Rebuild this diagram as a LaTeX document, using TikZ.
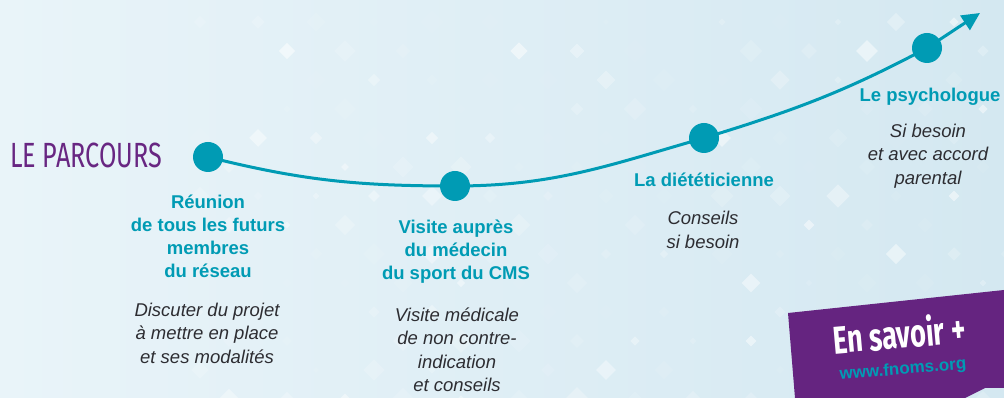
\documentclass[tikz,border=0pt]{standalone}
\usepackage{fontspec}
\setmainfont{Liberation Sans}
\newfontfamily\firafont{Fira Sans}
\usetikzlibrary{arrows.meta,positioning}
\definecolor{parcteal}{RGB}{0,155,180}
\definecolor{parcpurple}{RGB}{104,38,130}
\definecolor{boxpurple}{RGB}{101,36,128}
\definecolor{notegrey}{RGB}{45,45,50}
\definecolor{bgleft}{RGB}{233,244,249}
\definecolor{bgright}{RGB}{212,232,241}

\begin{document}
\begin{tikzpicture}[
    x=1pt, y=1pt,
    stepdot/.style={circle, fill=parcteal, minimum size=30pt, inner sep=0pt},
    steptitle/.style={text=parcteal, font=\bfseries\fontsize{18.5}{23}\selectfont, align=center, inner sep=0pt},
    stepnote/.style={text=notegrey, font=\itshape\fontsize{18.5}{23.5}\selectfont, align=center, inner sep=0pt},
    diam/.style={fill=white}
]
    % background
    \shade[left color=bgleft, right color=bgright] (0,0) rectangle (1004,398);
    \useasboundingbox (0,0) rectangle (1004,398);
    \pgfmathsetseed{12}
    \foreach \i in {0,...,14} {
        \foreach \j in {0,...,13} {
            \pgfmathsetmacro{\dx}{200+58*\i+29*mod(\j,2)}
            \pgfmathsetmacro{\dy}{376-29*\j}
            \pgfmathsetmacro{\ds}{3+9*rnd}
            \pgfmathsetmacro{\dop}{0.55*rnd*rnd}
            \fill[diam, opacity=\dop] (\dx,\dy) +(0,\ds) -- +(\ds,0) -- +(0,-\ds) -- +(-\ds,0) -- cycle;
        }
    }

    % title
    \node[text=parcpurple, font=\firafont\fontsize{35}{35}\selectfont, anchor=west, inner sep=0pt] (title) at (10,243) {\scalebox{0.72}[1]{LE PARCOURS}};

    % steps
    \node[stepdot] (d1) at (208,241) {};
    \node[stepdot] (d2) at (455,212) {};
    \node[stepdot] (d3) at (704,260) {};
    \node[stepdot] (d4) at (927,350) {};
    \coordinate (tip) at (980,385);

    \draw[parcteal, line width=3pt, -{Triangle[length=18pt,width=17pt]}]
        (d1.center) to[out=-14,in=180] (d2.center)
        to[out=0,in=196] (d3.center)
        to[out=17,in=208] (d4.center) -- (tip);

    \node[steptitle] (t1) at (208,162) {Réunion\\de tous les futurs\\membres\\du réseau};
    \node[stepnote] (n1) at (207,65) {Discuter du projet\\à mettre en place\\et ses modalités};

    \node[steptitle] (t2) at (456,146) {Visite auprès\\du médecin\\du sport du CMS};
    \node[stepnote] (n2) at (457,48) {Visite médicale\\de non contre-\\indication\\et conseils};

    \node[steptitle] (t3) at (704,218) {La diététicienne};
    \node[stepnote] (n3) at (703,168) {Conseils\\si besoin};

    \node[steptitle] (t4) at (930,301) {Le psychologue};
    \node[stepnote] (n4) at (928,242) {Si besoin\\et avec accord\\parental};

    % link box
    \fill[boxpurple] (788,85) -- (1004,108) -- (1004,10) -- (985,10) -- (965,0) -- (795,0) -- cycle;
    \node[text=white, font=\firafont\bfseries\fontsize{39}{39}\selectfont, rotate=5, inner sep=0pt] (more) at (899,65) {\scalebox{0.7}[1]{En savoir +}};
    \node[text=parcteal, font=\bfseries\fontsize{17}{17}\selectfont, rotate=5, inner sep=0pt] (url) at (903,28) {www.fnoms.org};
\end{tikzpicture}
\end{document}
